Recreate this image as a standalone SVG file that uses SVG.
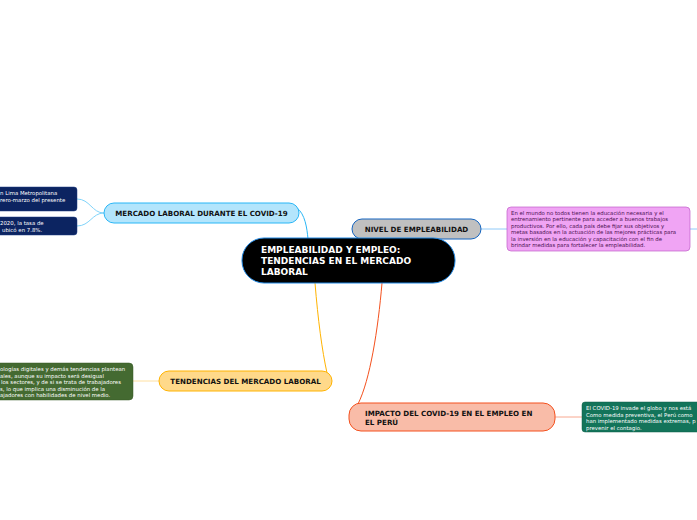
<svg xmlns="http://www.w3.org/2000/svg" width="697" height="520" viewBox="0 0 697 520">
<style>
.t{font-family:"DejaVu Sans",Verdana,sans-serif;font-weight:bold;font-size:7.1px;fill:#111}
.c{font-family:"DejaVu Sans",Verdana,sans-serif;font-weight:bold;font-size:9px;fill:#fff}
.s{font-family:"DejaVu Sans",Verdana,sans-serif;font-size:5.4px;fill:#fff}
.sd{font-family:"DejaVu Sans",Verdana,sans-serif;font-size:5.4px;fill:#4a1050}
.ln{fill:none;stroke-width:1}
</style>
<rect width="697" height="520" fill="#fff"/>
<g id="connectors">
<path class="ln" d="M297,208 C305,214 307,228 308,239" stroke="#29b6f6" stroke-width="1.2"/>
<path class="ln" d="M315,283 C318,320 322,350 327,373" stroke="#ffb300" stroke-width="1.2"/>
<path class="ln" d="M382,283 C378,330 370,380 358,404" stroke="#f4511e" stroke-width="1.2"/>
<path class="ln" d="M104,213 C92,213 90,199 77,199" stroke="#81d4fa"/>
<path class="ln" d="M104,213 C92,213 90,226 77,226" stroke="#81d4fa"/>
<path class="ln" d="M481,229 L507,229" stroke="#90caf9"/>
<path class="ln" d="M690,229 L697,229" stroke="#90caf9"/>
<path class="ln" d="M159,381 L133,381" stroke="#ffe0a0"/>
<path class="ln" d="M555,417 L582,417" stroke="#f8a890"/>
</g>
<g id="mercado">
<rect x="104" y="203" width="195" height="20" rx="10" fill="#b3e5fc" stroke="#29b6f6"/>
<text class="t" x="201.5" y="215.5" text-anchor="middle">MERCADO LABORAL DURANTE EL COVID-19</text>
</g>
<g id="mercado-leaf1">
<rect x="-10" y="187" width="87" height="24" rx="3" fill="#0c2461" stroke="#1a3a80" stroke-width="0.5"/>
<text class="s" x="0" y="195">n Lima Metropolitana</text>
<text class="s" x="0" y="202">rero-marzo del presente</text>
</g>
<g id="mercado-leaf2">
<rect x="-10" y="217" width="87" height="18" rx="3" fill="#0c2461" stroke="#1a3a80" stroke-width="0.5"/>
<text class="s" x="0" y="225">2020, la tasa de</text>
<text class="s" x="2" y="231.5">ubicó en 7.8%.</text>
</g>
<g id="nivel">
<rect x="352" y="219" width="129" height="20" rx="10" fill="#c0c0c0" stroke="#1565c0"/>
<text class="t" x="416.5" y="231.5" text-anchor="middle">NIVEL DE EMPLEABILIDAD</text>
</g>
<g id="nivel-leaf">
<rect x="507" y="207" width="183" height="44" rx="4" fill="#f0a4f4" stroke="#c060c8" stroke-width="0.7"/>
<text class="sd" x="511" y="214.5">En el mundo no todos tienen la educación necesaria y el</text>
<text class="sd" x="511" y="221">entrenamiento pertinente para acceder a buenos trabajos</text>
<text class="sd" x="511" y="227.5">productivos. Por ello, cada país debe fijar sus objetivos y</text>
<text class="sd" x="511" y="234">metas basados en la actuación de las mejores prácticas para</text>
<text class="sd" x="511" y="240.5">la inversión en la educación y capacitación con el fin de</text>
<text class="sd" x="511" y="247">brindar medidas para fortalecer la empleabilidad.</text>
</g>
<g id="central">
<rect x="242" y="238" width="213" height="45" rx="22" fill="#000" stroke="#1e88e5"/>
<text class="c" x="261" y="252.5">EMPLEABILIDAD Y EMPLEO:</text>
<text class="c" x="261" y="263.5">TENDENCIAS EN EL MERCADO</text>
<text class="c" x="261" y="274.5">LABORAL</text>
</g>
<g id="tendencias">
<rect x="159" y="371" width="173" height="20" rx="10" fill="#ffd98a" stroke="#ffb300"/>
<text class="t" x="245.5" y="383.5" text-anchor="middle">TENDENCIAS DEL MERCADO LABORAL</text>
</g>
<g id="tendencias-leaf">
<rect x="-10" y="363" width="143" height="37" rx="4" fill="#446a31" stroke="#355826" stroke-width="0.5"/>
<text class="s" x="0" y="371">ologías digitales y demás tendencias plantean</text>
<text class="s" x="0" y="377.5">ales, aunque su impacto será desigual</text>
<text class="s" x="1" y="384">los sectores, y de si se trata de trabajadores</text>
<text class="s" x="0" y="390.5">s, lo que implica una disminución de la</text>
<text class="s" x="0" y="397">ajadores con habilidades de nivel medio.</text>
</g>
<g id="impacto">
<rect x="349" y="403" width="206" height="28" rx="12" fill="#f9bca8" stroke="#f4511e"/>
<text class="t" x="365" y="415.5">IMPACTO DEL COVID-19 EN EL EMPLEO EN</text>
<text class="t" x="365" y="424.5">EL PERÚ</text>
</g>
<g id="impacto-leaf">
<rect x="582" y="402" width="125" height="30" rx="3" fill="#13745a" stroke="#0f5e48" stroke-width="0.5"/>
<text class="s" x="586" y="410">El COVID-19 invade el globo y nos está</text>
<text class="s" x="586" y="416.5">Como medida preventiva, el Perú como</text>
<text class="s" x="586" y="423">han implementado medidas extremas, p</text>
<text class="s" x="586" y="429.5">prevenir el contagio.</text>
</g>
</svg>
